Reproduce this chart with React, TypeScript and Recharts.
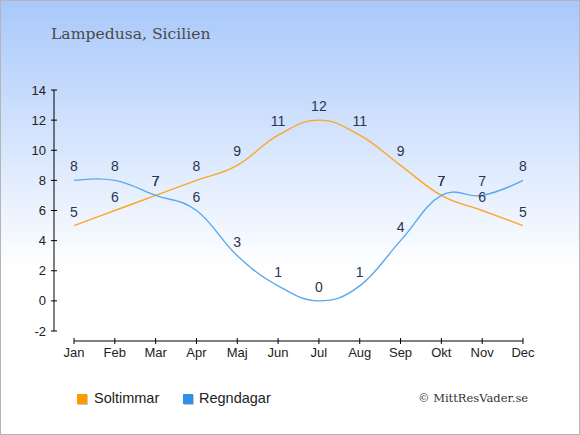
import { LabelList, Line, LineChart, XAxis, YAxis } from "recharts";

document.body.style.margin = "0";

const MONTHS = ["Jan", "Feb", "Mar", "Apr", "Maj", "Jun", "Jul", "Aug", "Sep", "Okt", "Nov", "Dec"];
const SOLTIMMAR = [5, 6, 7, 8, 9, 11, 12, 11, 9, 7, 6, 5];
const REGNDAGAR = [8, 8, 7, 6, 3, 1, 0, 1, 4, 7, 7, 8];
const Y_TICKS = [-2, 0, 2, 4, 6, 8, 10, 12, 14];

const data = MONTHS.map((m, i) => ({ month: m, sol: SOLTIMMAR[i], regn: REGNDAGAR[i] }));

const SANS = '"Liberation Sans", Arial, sans-serif';
const SERIF = '"DejaVu Serif", "Liberation Serif", serif';
const INK = "#2a3550";

// spline i gammal highcharts-stil: kontrollpunkter 1.5-utjämnade, ingen klampning (ger små överslag)
const spline = (ctx: any) => {
  let xs: number[] = [];
  let ys: number[] = [];
  return {
    areaStart() {},
    areaEnd() {},
    lineStart() {
      xs = [];
      ys = [];
    },
    point(x: number, y: number) {
      xs.push(+x);
      ys.push(+y);
    },
    lineEnd() {
      const n = xs.length;
      if (!n) return;
      const sm = 1.5;
      const d = sm + 1;
      const lc: number[][] = [];
      const rc: number[][] = [];
      for (let i = 0; i < n; i++) {
        if (i === 0 || i === n - 1) {
          lc[i] = [xs[i], ys[i]];
          rc[i] = [xs[i], ys[i]];
          continue;
        }
        const lx = (sm * xs[i] + xs[i - 1]) / d;
        const ly = (sm * ys[i] + ys[i - 1]) / d;
        const rx = (sm * xs[i] + xs[i + 1]) / d;
        const ry = (sm * ys[i] + ys[i + 1]) / d;
        let corr = 0;
        if (rx !== lx) corr = ((ry - ly) * (rx - xs[i])) / (rx - lx) + ys[i] - ry;
        lc[i] = [lx, ly + corr];
        rc[i] = [rx, ry + corr];
      }
      ctx.moveTo(xs[0], ys[0]);
      for (let i = 1; i < n; i++) {
        ctx.bezierCurveTo(rc[i - 1][0], rc[i - 1][1], lc[i][0], lc[i][1], xs[i], ys[i]);
      }
    },
  };
};

const XTick = ({ x, y, payload }: any) => (
  <g>
    <line x1={x} y1={y - 3} x2={x} y2={y + 3} stroke="#000" />
    <text x={x} y={y + 16} textAnchor="middle" fontSize={13} fontFamily={SANS} fill="#222">
      {payload.value}
    </text>
  </g>
);

const YTick = ({ x, y, payload }: any) => (
  <g>
    <line x1={x - 3} y1={y} x2={x + 3} y2={y} stroke="#000" />
    <text x={x - 8} y={y + 4.5} textAnchor="end" fontSize={13} fontFamily={SANS} fill="#222">
      {payload.value}
    </text>
  </g>
);

const pointLabel = ({ x, y, value }: any) => (
  <text x={x} y={y - 9} textAnchor="middle" fontSize={14} fontFamily={SANS} fill={INK}>
    {value}
  </text>
);

export default function App() {
  return (
    <div
      style={{
        position: "relative",
        width: 580,
        height: 435,
        background: "linear-gradient(to bottom, #a8c8fa 0%, #ffffff 62%)",
      }}
    >
      <LineChart width={580} height={435} data={data} margin={{ top: 90, right: 57, bottom: 64, left: 14 }}>
        <XAxis
          dataKey="month"
          interval={0}
          padding={{ left: 20, right: 0 }}
          height={30}
          tickSize={0}
          tickMargin={0}
          tickLine={false}
          axisLine={{ stroke: "#000", strokeDasharray: "0 20 1000" }}
          tick={<XTick />}
        />
        <YAxis
          domain={[-2, 14]}
          ticks={Y_TICKS}
          width={40}
          padding={{ top: 0, bottom: 10 }}
          tickSize={0}
          tickMargin={0}
          tickLine={false}
          axisLine={{ stroke: "#000", strokeDasharray: "241 1000" }}
          tick={<YTick />}
        />
        <Line
          type={spline as any}
          dataKey="sol"
          stroke="#ffa526"
          strokeWidth={1.4}
          dot={false}
          activeDot={false}
          isAnimationActive={false}
        >
          <LabelList dataKey="sol" content={pointLabel} />
        </Line>
        <Line
          type={spline as any}
          dataKey="regn"
          stroke="#5aa9ee"
          strokeWidth={1.4}
          dot={false}
          activeDot={false}
          isAnimationActive={false}
        >
          <LabelList dataKey="regn" content={pointLabel} />
        </Line>
      </LineChart>

      <svg width={580} height={435} style={{ position: "absolute", left: 0, top: 0, pointerEvents: "none" }}>
        <text x={51} y={39} fontSize={15.6} fontFamily={SERIF} fill="#4a4a4a">
          Lampedusa, Sicilien
        </text>

        <rect x={78} y={395} width={10} height={10} fill="#c8c8c8" />
        <rect x={77} y={394} width={10} height={10} fill="#ff9900" />
        <text x={94} y={403} fontSize={14.5} fontFamily={SANS} fill="#222">
          Soltimmar
        </text>
        <rect x={184} y={395} width={10} height={10} fill="#c8c8c8" />
        <rect x={183} y={394} width={10} height={10} fill="#2f90e8" />
        <text x={199} y={403} fontSize={14.5} fontFamily={SANS} fill="#222">
          Regndagar
        </text>

        <text x={418} y={402} fontSize={11.5} fontFamily={SERIF} fill="#333">
          © MittResVader.se
        </text>

        <rect x={0.5} y={0.5} width={579} height={434} fill="none" stroke="#b5b5b5" />
      </svg>
    </div>
  );
}
